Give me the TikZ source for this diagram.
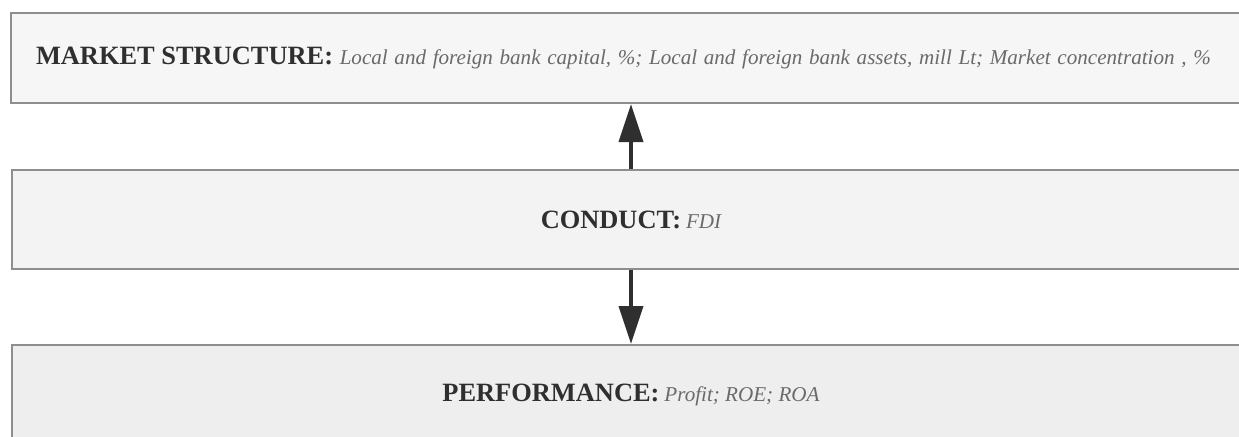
\documentclass[tikz,border=0pt]{standalone}
\usepackage{fontspec}
\setmainfont{Liberation Serif}
\usetikzlibrary{arrows.meta}
\definecolor{boxline}{HTML}{8E8E8E}
\definecolor{topfill}{HTML}{F6F6F6}
\definecolor{midfill}{HTML}{F3F3F3}
\definecolor{lowfill}{HTML}{EEEEEE}
\definecolor{headgray}{HTML}{2F2F2F}
\definecolor{itemgray}{HTML}{6A6A6A}
\newcommand{\headtext}[1]{{\fontsize{13.2pt}{15pt}\selectfont\bfseries\color{headgray}#1}}
\newcommand{\itemtext}[1]{{\fontsize{10.55pt}{12pt}\selectfont\itshape\color{itemgray}#1}}
\begin{document}
\begin{tikzpicture}[x=0.5pt,y=-0.5pt,
  layerbox/.style={draw=boxline,line width=1pt,minimum width=619pt,inner sep=0pt},
  flowarrow/.style={-{Triangle[width=12pt,length=19pt]},line width=2pt,draw=headgray}]
\useasboundingbox (0,0) rectangle (1239,436);
\clip (0,0) rectangle (1239,436);
% three layers
\node[layerbox,fill=topfill,minimum height=45pt,inner xsep=12.5pt,text width=612pt,align=left,anchor=west] (market) at (10,58)
  {\headtext{MARKET STRUCTURE:} \itemtext{Local and foreign bank capital, \%; Local and foreign bank assets, mill Lt; Market concentration , \%}};
\node[layerbox,fill=midfill,minimum height=49.5pt] (conduct) at (631,219.5)
  {\headtext{CONDUCT:} \itemtext{FDI}};
\node[layerbox,fill=lowfill,minimum height=50pt] (perform) at (631,395)
  {\headtext{PERFORMANCE:} \itemtext{Profit; ROE; ROA}};
% links
\draw[flowarrow] (conduct.north) -- (conduct.north |- market.south);
\draw[flowarrow] (conduct.south) -- (perform.north);
\end{tikzpicture}
\end{document}
